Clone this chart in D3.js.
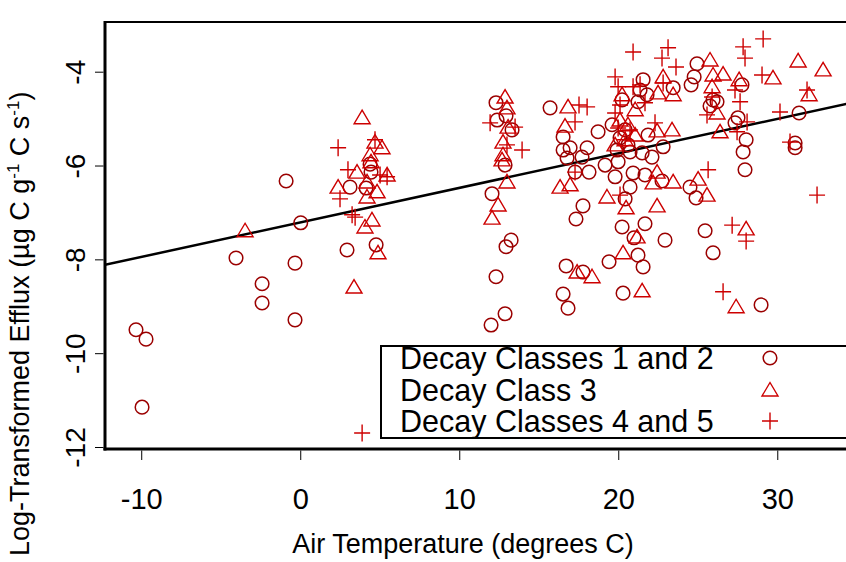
<!DOCTYPE html>
<html>
<head>
<meta charset="utf-8">
<script src="https://cdn.jsdelivr.net/npm/d3@7"></script>
<style>
  body { margin: 0; background: #fff; }
  svg { display: block; }
  text { font-family: "Liberation Sans", Arial, sans-serif; fill: #000; }
</style>
</head>
<body>
<svg id="chart" width="846" height="562"></svg>
<script>
// decay classes 1 and 2 : [air temperature, log efflux]
const decay12 = [
  [-10.36, -9.49], [-9.73, -9.69], [-9.98, -11.14], [-4.07, -7.96], [-2.43, -8.51],
  [-2.43, -8.92], [-0.92, -6.32], [0.0, -7.21], [-0.36, -8.07], [-0.36, -9.28],
  [2.91, -7.79], [4.74, -7.68], [4.36, -5.96], [4.42, -6.13], [3.10, -6.45],
  [4.11, -6.47], [12.28, -4.65], [12.91, -4.93], [12.35, -5.02], [13.29, -5.23],
  [12.85, -5.98], [12.03, -6.59], [13.23, -7.58], [12.91, -7.72], [12.28, -8.36],
  [12.85, -9.15], [11.97, -9.39], [15.68, -4.76], [16.50, -5.38], [16.50, -5.66],
  [16.94, -5.61], [16.75, -5.83], [18.01, -5.61], [17.69, -5.81], [18.13, -6.13],
  [17.25, -6.13], [17.75, -6.85], [17.31, -7.13], [16.69, -8.13], [17.75, -8.26],
  [16.50, -8.73], [16.81, -9.03], [18.70, -5.27], [19.58, -5.12], [20.08, -5.40],
  [19.14, -5.98], [19.96, -5.91], [20.71, -5.70], [21.47, -5.72], [22.09, -5.81],
  [22.79, -5.59], [19.77, -6.23], [20.90, -6.15], [21.65, -6.19], [22.72, -6.32],
  [20.71, -6.45], [20.40, -6.70], [20.21, -7.30], [21.65, -7.23], [20.96, -7.53],
  [22.91, -7.58], [19.39, -8.04], [21.21, -7.90], [21.53, -8.15], [20.27, -8.71],
  [20.21, -4.59], [21.21, -4.63], [21.78, -4.48], [21.34, -4.38], [21.53, -4.16],
  [21.84, -5.34], [24.92, -3.82], [24.74, -4.10], [24.55, -4.27], [23.42, -4.33],
  [25.93, -4.59], [26.18, -4.63], [25.74, -4.72], [27.75, -4.27], [27.50, -4.97],
  [27.31, -5.08], [28.01, -5.44], [27.82, -5.70], [27.94, -6.08], [31.34, -4.87],
  [31.09, -5.51], [31.09, -5.61], [24.48, -6.45], [24.86, -6.68], [25.43, -7.38],
  [25.93, -7.85], [28.95, -8.96], [20.40, -5.23], [20.58, -5.55], [19.89, -5.66]
];

// decay class 3
const decay3 = [
  [-3.50, -7.38], [3.86, -4.97], [5.11, -5.61], [4.67, -5.49], [4.36, -5.76],
  [4.42, -5.91], [3.54, -6.13], [4.17, -6.34], [4.80, -6.55], [4.17, -6.66],
  [5.43, -6.19], [2.35, -6.45], [4.48, -7.15], [4.04, -7.30], [4.86, -7.85],
  [3.35, -8.58], [12.85, -4.53], [12.97, -4.76], [13.04, -5.17], [12.72, -5.49],
  [12.72, -5.76], [12.66, -5.87], [12.97, -6.34], [12.41, -6.83], [12.03, -7.11],
  [16.81, -4.74], [16.62, -5.15], [16.31, -6.45], [16.94, -6.40], [19.26, -6.66],
  [20.46, -6.89], [22.41, -6.85], [21.15, -7.51], [20.27, -7.85], [17.38, -8.26],
  [18.32, -8.36], [21.47, -8.66], [20.21, -4.48], [21.03, -4.80], [22.47, -4.44],
  [22.79, -4.10], [23.42, -4.48], [25.74, -3.74], [25.93, -4.06], [26.56, -4.04],
  [25.87, -4.31], [27.57, -4.16], [31.28, -3.76], [32.85, -3.95], [29.70, -4.12],
  [31.97, -4.48], [26.18, -4.87], [26.37, -5.27], [23.35, -5.23], [22.41, -5.25],
  [22.41, -6.13], [23.42, -6.34], [24.99, -6.28], [25.55, -6.62], [28.01, -7.34],
  [27.38, -9.00], [22.16, -6.36], [20.08, -5.02], [20.58, -5.12], [20.40, -5.44],
  [19.77, -5.55], [21.03, -5.34]
];

// decay classes 4 and 5
const decay45 = [
  [3.86, -11.69], [2.35, -5.61], [4.67, -5.44], [2.97, -6.08], [4.99, -6.19],
  [5.43, -6.23], [2.47, -6.70], [3.23, -7.04], [3.42, -7.09], [11.91, -5.08],
  [13.48, -5.17], [12.97, -5.55], [13.92, -5.66], [17.50, -4.70], [18.01, -4.74],
  [17.25, -5.06], [17.25, -6.13], [20.08, -6.62], [20.90, -3.57], [23.10, -3.48],
  [22.72, -3.70], [23.60, -3.89], [19.77, -4.10], [19.96, -4.31], [20.90, -4.31],
  [21.34, -4.27], [21.65, -4.65], [19.77, -4.87], [22.28, -5.08], [22.79, -4.23],
  [27.82, -3.46], [29.08, -3.29], [27.94, -3.70], [29.01, -4.06], [31.84, -4.38],
  [27.31, -4.38], [27.63, -4.63], [25.87, -4.53], [25.55, -4.91], [28.07, -5.06],
  [30.14, -4.85], [27.44, -5.27], [30.77, -5.49], [25.62, -6.08], [32.47, -6.62],
  [27.13, -7.26], [28.01, -7.60], [26.56, -8.68], [20.40, -5.44], [20.71, -5.23],
  [19.96, -5.19], [20.08, -4.70]
];

// fitted line: efflux = a + b * temp
const fitIntercept = -7.20;
const fitSlope = 0.0736;

const xTicks = [-10, 0, 10, 20, 30];
const yTicks = [-4, -6, -8, -10, -12];
const legendLabels = ['Decay Classes 1 and 2', 'Decay Class 3', 'Decay Classes 4 and 5'];

const DARK = '#9b0000';
const RED  = '#cd0000';

const svg = d3.select('#chart');

const LEFT = 105, RIGHT = 870, TOP = 22;
const x = d3.scaleLinear().domain([-12.31, 35.8]).range([LEFT, RIGHT]);
const y = d3.scaleLinear().domain([-12, -2.93]).range([447.5, TOP]);
const BOTTOM = y(-12) + 1.5;

const plot = svg.append('g');

// regression line, clipped to the plot box
svg.append('clipPath').attr('id', 'box')
  .append('rect').attr('x', LEFT).attr('y', TOP).attr('width', RIGHT - LEFT).attr('height', BOTTOM - TOP);

const xs = x.domain();
plot.append('line')
  .attr('clip-path', 'url(#box)')
  .attr('x1', x(xs[0])).attr('y1', y(fitIntercept + fitSlope * xs[0]))
  .attr('x2', x(xs[1])).attr('y2', y(fitIntercept + fitSlope * xs[1]))
  .attr('stroke', '#000').attr('stroke-width', 2.5);

// markers
const drawCircle = (g, cx, cy) => g.append('circle')
  .attr('cx', cx).attr('cy', cy).attr('r', 6.8)
  .attr('fill', 'none').attr('stroke', DARK).attr('stroke-width', 1.5);

const drawTriangle = (g, cx, cy) => g.append('path')
  .attr('d', 'M0,-7.5L8,6L-8,6Z')
  .attr('transform', `translate(${cx},${cy})`)
  .attr('fill', 'none').attr('stroke', RED).attr('stroke-width', 1.4);

const drawPlus = (g, cx, cy) => g.append('path')
  .attr('d', 'M-8,0H8M0,-8.5V8.5')
  .attr('transform', `translate(${cx},${cy})`)
  .attr('fill', 'none').attr('stroke', RED).attr('stroke-width', 1.4);

const pts = plot.append('g');
decay12.forEach(d => drawCircle(pts, x(d[0]), y(d[1])));
decay3.forEach(d => drawTriangle(pts, x(d[0]), y(d[1])));
decay45.forEach(d => drawPlus(pts, x(d[0]), y(d[1])));

// box
plot.append('line').attr('x1', LEFT).attr('x2', RIGHT).attr('y1', TOP).attr('y2', TOP)
  .attr('stroke', '#000').attr('stroke-width', 2);
plot.append('line').attr('x1', LEFT).attr('x2', LEFT).attr('y1', TOP - 1).attr('y2', BOTTOM + 1.5)
  .attr('stroke', '#000').attr('stroke-width', 3);
plot.append('line').attr('x1', LEFT - 1.5).attr('x2', RIGHT).attr('y1', BOTTOM).attr('y2', BOTTOM)
  .attr('stroke', '#000').attr('stroke-width', 3);

// x axis
const xAxis = svg.append('g');
xAxis.selectAll('line').data(xTicks).join('line')
  .attr('x1', d => x(d)).attr('x2', d => x(d))
  .attr('y1', BOTTOM + 1.5).attr('y2', BOTTOM + 11)
  .attr('stroke', '#000').attr('stroke-width', 1);
xAxis.selectAll('text').data(xTicks).join('text')
  .attr('x', d => x(d)).attr('y', 509)
  .attr('text-anchor', 'middle').attr('font-size', 29)
  .text(d => d);

svg.append('text')
  .attr('x', 463).attr('y', 553)
  .attr('text-anchor', 'middle').attr('font-size', 27)
  .text('Air Temperature (degrees C)');

// y axis
const yAxis = svg.append('g');
yAxis.selectAll('line').data(yTicks).join('line')
  .attr('x1', LEFT - 1.5).attr('x2', LEFT - 10)
  .attr('y1', d => y(d)).attr('y2', d => y(d))
  .attr('stroke', '#000').attr('stroke-width', 1);
yAxis.selectAll('text').data(yTicks).join('text')
  .attr('transform', d => `translate(85,${y(d)}) rotate(-90)`)
  .attr('text-anchor', 'middle').attr('font-size', 28)
  .text(d => d);

const yTitle = svg.append('text')
  .attr('transform', 'translate(29,556) rotate(-90)')
  .attr('text-anchor', 'start').attr('font-size', 27);
yTitle.append('tspan').text('Log-Transformed Efflux (µg C g');
yTitle.append('tspan').attr('font-size', 17).attr('dy', -10).text('-1');
yTitle.append('tspan').attr('dy', 10).text(' C s');
yTitle.append('tspan').attr('font-size', 17).attr('dy', -10).text('-1');
yTitle.append('tspan').attr('dy', 10).text(')');

// legend
const legend = svg.append('g');
legend.append('rect')
  .attr('x', 381).attr('y', 346).attr('width', 520).attr('height', 92)
  .attr('fill', '#fff').attr('stroke', '#000').attr('stroke-width', 2);
const rowY = [358, 390, 421];
legend.selectAll('text').data(legendLabels).join('text')
  .attr('x', 400).attr('y', (d, i) => rowY[i] + 11)
  .attr('font-size', 30.5)
  .text(d => d);
drawCircle(legend, 770, rowY[0]);
drawTriangle(legend, 770, rowY[1]);
drawPlus(legend, 770, rowY[2]);
</script>
</body>
</html>
